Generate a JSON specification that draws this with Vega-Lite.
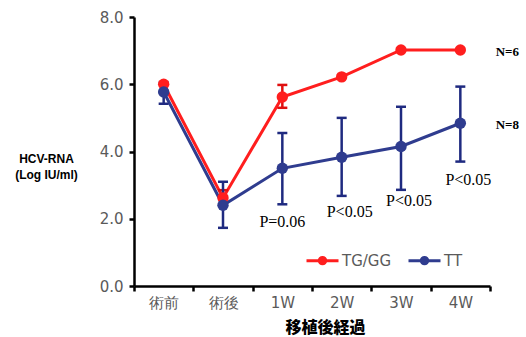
{
  "$schema": "https://vega.github.io/schema/vega-lite/v6.json",
  "width": 356,
  "height": 269,
  "autosize": {"type": "none"},
  "padding": {"left": 134, "top": 17, "right": 36, "bottom": 51},
  "background": "white",
  "config": {
    "view": {"stroke": null},
    "axis": {
      "grid": false,
      "domainColor": "#000000",
      "domainWidth": 2.5,
      "domainOpacity": 1,
      "tickColor": "#000000",
      "tickWidth": 2.5,
      "tickOpacity": 1,
      "tickSize": 5,
      "labelFont": "DejaVu Sans",
      "labelFontSize": 15,
      "labelColor": "#5a5a5a"
    }
  },
  "datasets": {
    "means": [
      {"group": "TG/GG", "time": "術前", "mean": 6.0},
      {"group": "TG/GG", "time": "術後", "mean": 2.62},
      {"group": "TG/GG", "time": "1W", "mean": 5.62},
      {"group": "TG/GG", "time": "2W", "mean": 6.22},
      {"group": "TG/GG", "time": "3W", "mean": 7.02},
      {"group": "TG/GG", "time": "4W", "mean": 7.02},
      {"group": "TT", "time": "術前", "mean": 5.77},
      {"group": "TT", "time": "術後", "mean": 2.4},
      {"group": "TT", "time": "1W", "mean": 3.5},
      {"group": "TT", "time": "2W", "mean": 3.83},
      {"group": "TT", "time": "3W", "mean": 4.15},
      {"group": "TT", "time": "4W", "mean": 4.84}
    ],
    "errors": [
      {"group": "TG/GG", "time": "1W", "lo": 5.3, "hi": 5.98},
      {"group": "TG/GG", "time": "術後", "lo": 2.4, "hi": 2.85},
      {"group": "TT", "time": "術前", "lo": 5.42, "hi": 6.05},
      {"group": "TT", "time": "術後", "lo": 1.73, "hi": 3.1},
      {"group": "TT", "time": "1W", "lo": 2.43, "hi": 4.55},
      {"group": "TT", "time": "2W", "lo": 2.68, "hi": 5.0},
      {"group": "TT", "time": "3W", "lo": 2.86, "hi": 5.33},
      {"group": "TT", "time": "4W", "lo": 3.7, "hi": 5.93}
    ],
    "pvals": [
      {"time": "1W", "y": 1.9, "label": "P=0.06"},
      {"time": "2W", "y": 2.2, "label": "P<0.05"},
      {"time": "3W", "y": 2.53, "label": "P<0.05"},
      {"time": "4W", "y": 3.15, "label": "P<0.05"}
    ],
    "ns": [
      {"time": "4W", "y": 6.95, "label": "N=6"},
      {"time": "4W", "y": 4.8, "label": "N=8"}
    ]
  },
  "encoding": {
    "x": {
      "field": "time",
      "type": "nominal",
      "sort": ["術前", "術後", "1W", "2W", "3W", "4W"],
      "scale": {"type": "band", "paddingInner": 0, "paddingOuter": 0, "domain": ["術前", "術後", "1W", "2W", "3W", "4W"]},
      "axis": {
        "tickBand": "extent",
        "labelAngle": 0,
        "labelPadding": 4,
        "title": "移植後経過",
        "titleFont": "Noto Sans CJK JP",
        "titleFontWeight": 900,
        "titleFontSize": 16,
        "titleColor": "#000000",
        "titleX": 191,
        "titleY": 41,
        "titleAlign": "center",
        "titleBaseline": "middle"
      }
    }
  },
  "layer": [
    {
      "data": {"name": "means"},
      "mark": {"type": "line", "strokeWidth": 3},
      "encoding": {
        "y": {
          "field": "mean",
          "type": "quantitative",
          "scale": {"domain": [0, 8], "nice": false},
          "axis": {
            "values": [0, 2, 4, 6, 8],
            "format": ".1f",
            "labelPadding": 6,
            "title": ["HCV-RNA", "(Log IU/ml)"],
            "titleAngle": 0,
            "titleX": -88,
            "titleY": 141,
            "titleAlign": "center",
            "titleBaseline": "middle",
            "titleFont": "Liberation Sans",
            "titleFontSize": 12,
            "titleFontWeight": "bold",
            "titleColor": "#000000",
            "titleLineHeight": 16
          }
        },
        "color": {
          "field": "group",
          "type": "nominal",
          "scale": {"domain": ["TG/GG", "TT"], "range": ["#ff1e1e", "#2f3c8f"]},
          "legend": {
            "orient": "none",
            "legendX": 171,
            "legendY": 226,
            "direction": "horizontal",
            "title": null,
            "symbolType": "M-1,0L1,0M-0.2,0A0.2,0.2 0 1,0 0.2,0A0.2,0.2 0 1,0 -0.2,0",
            "symbolSize": 1024,
            "symbolStrokeWidth": 3,
            "labelFont": "DejaVu Sans",
            "labelFontSize": 15,
            "labelColor": "#5a5a5a",
            "labelOffset": 2,
            "columnPadding": 10,
            "padding": 0
          }
        }
      }
    },
    {
      "data": {"name": "errors"},
      "transform": [{"filter": "datum.group === 'TG/GG'"}],
      "mark": {"type": "rule", "color": "#e01010", "strokeWidth": 2.5},
      "encoding": {
        "y": {"field": "lo", "type": "quantitative"},
        "y2": {"field": "hi"}
      }
    },
    {
      "data": {"name": "errors"},
      "transform": [{"filter": "datum.group === 'TG/GG'"}, {"fold": ["lo", "hi"], "as": ["k", "v"]}],
      "mark": {"type": "tick", "color": "#e01010", "thickness": 2.5, "size": 10, "opacity": 1},
      "encoding": {
        "y": {"field": "v", "type": "quantitative"}
      }
    },
    {
      "data": {"name": "errors"},
      "transform": [{"filter": "datum.group === 'TT'"}],
      "mark": {"type": "rule", "color": "#1f2a80", "strokeWidth": 2.5},
      "encoding": {
        "y": {"field": "lo", "type": "quantitative"},
        "y2": {"field": "hi"}
      }
    },
    {
      "data": {"name": "errors"},
      "transform": [{"filter": "datum.group === 'TT'"}, {"fold": ["lo", "hi"], "as": ["k", "v"]}],
      "mark": {"type": "tick", "color": "#1f2a80", "thickness": 2.5, "size": 10, "opacity": 1},
      "encoding": {
        "y": {"field": "v", "type": "quantitative"}
      }
    },
    {
      "data": {"name": "means"},
      "mark": {"type": "point", "filled": true, "size": 130, "opacity": 1},
      "encoding": {
        "y": {"field": "mean", "type": "quantitative"},
        "color": {
          "field": "group",
          "type": "nominal",
          "legend": {
            "orient": "none",
            "legendX": 171,
            "legendY": 226,
            "direction": "horizontal",
            "title": null,
            "symbolType": "M-1,0L1,0M-0.2,0A0.2,0.2 0 1,0 0.2,0A0.2,0.2 0 1,0 -0.2,0",
            "symbolSize": 1024,
            "symbolStrokeWidth": 3,
            "labelFont": "DejaVu Sans",
            "labelFontSize": 15,
            "labelColor": "#5a5a5a",
            "labelOffset": 2,
            "columnPadding": 10,
            "padding": 0
          }
        }
      }
    },
    {
      "data": {"name": "pvals"},
      "transform": [{"filter": "datum.label === 'P=0.06'"}],
      "mark": {"type": "text", "font": "Liberation Serif", "fontSize": 16, "color": "#000000", "align": "center", "baseline": "middle"},
      "encoding": {
        "y": {"field": "y", "type": "quantitative"},
        "text": {"field": "label"}
      }
    },
    {
      "data": {"name": "pvals"},
      "transform": [{"filter": "datum.label !== 'P=0.06'"}],
      "mark": {"type": "text", "font": "Liberation Serif", "fontSize": 16, "color": "#000000", "align": "center", "baseline": "middle", "dx": 8},
      "encoding": {
        "y": {"field": "y", "type": "quantitative"},
        "text": {"field": "label"}
      }
    },
    {
      "data": {"name": "ns"},
      "mark": {"type": "text", "font": "Liberation Serif", "fontSize": 13, "fontWeight": "bold", "color": "#000000", "align": "center", "baseline": "middle", "dx": 47},
      "encoding": {
        "y": {"field": "y", "type": "quantitative"},
        "text": {"field": "label"}
      }
    }
  ]
}
